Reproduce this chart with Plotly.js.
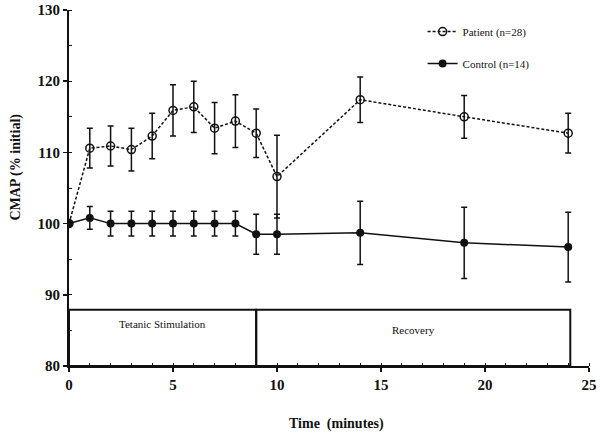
<!DOCTYPE html>
<html>
<head>
<meta charset="utf-8">
<script src="https://cdn.plot.ly/plotly-3.0.1.min.js"></script>
<style>html,body{margin:0;padding:0;background:#fff;}#chart{width:600px;height:435px;}</style>
</head>
<body>
<div id="chart"></div>
<script>
// Data
const timeMin = [0, 1, 2, 3, 4, 5, 6, 7, 8, 9, 10, 14, 19, 24];
const patientMean = [100, 110.6, 110.9, 110.4, 112.3, 115.9, 116.4, 113.4, 114.4, 112.7, 106.6, 117.4, 115.0, 112.7];
const patientErr  = [0, 2.8, 2.8, 3.0, 3.2, 3.6, 3.6, 3.6, 3.7, 3.4, 5.8, 3.2, 3.0, 2.8];
const controlMean = [100, 100.8, 100, 100, 100, 100, 100, 100, 100, 98.5, 98.5, 98.7, 97.3, 96.7];
const controlErr  = [0, 1.6, 1.75, 1.75, 1.75, 1.75, 1.75, 1.75, 1.75, 2.8, 2.8, 4.45, 5.0, 4.9];
const phaseNames = ["Tetanic Stimulation", "Recovery"];
const phaseBounds = [0, 9, 24.1];
const phaseBoxTop = 87.9;
const yMin = 80;

const serif = "Liberation Serif";

const traces = [
  {
    x: timeMin, y: patientMean, name: "Patient (n=28)", type: "scatter", mode: "lines+markers",
    line: {color: "#111", width: 1.5, dash: "3px,2px"},
    marker: {symbol: "circle-open", size: 8, color: "#111", line: {width: 1.5, color: "#111"}},
    error_y: {type: "data", array: patientErr, visible: true, color: "#111", thickness: 1.5, width: 3},
    legendgroup: "a"
  },
  {
    x: timeMin, y: controlMean, name: "Control (n=14)", type: "scatter", mode: "lines+markers",
    line: {color: "#111", width: 1.5},
    marker: {symbol: "circle", size: 8, color: "#111"},
    error_y: {type: "data", array: controlErr, visible: true, color: "#111", thickness: 1.5, width: 3},
    legendgroup: "b"
  }
];

const shapes = [];
for (let i = 0; i < phaseNames.length; i++) {
  shapes.push({type: "rect", xref: "x", yref: "y", x0: phaseBounds[i], x1: phaseBounds[i+1], y0: yMin, y1: phaseBoxTop,
    line: {color: "#111", width: 2}, fillcolor: "rgba(0,0,0,0)", layer: "above"});
}
const annotations = phaseNames.map((t, i) => ({
  text: t, xref: "x", yref: "y",
  x: (phaseBounds[i] + phaseBounds[i+1]) / 2, y: i === 0 ? 85.9 : 85.1,
  showarrow: false, font: {family: serif, size: 11, color: "#111"}
}));
annotations.push({
  text: "<b>CMAP (% initial)</b>", xref: "paper", yref: "paper",
  x: -0.102, y: 0.56, xanchor: "center", yanchor: "middle", textangle: -90, showarrow: false,
  font: {family: serif, size: 14, color: "#111"}
});
annotations.push({
  text: "<b>Time  (minutes)</b>", xref: "paper", yref: "paper",
  x: 0.515, y: -0.163, xanchor: "center", yanchor: "middle", showarrow: false,
  font: {family: serif, size: 14, color: "#111"}
});

const layout = {
  width: 600, height: 435,
  margin: {l: 69, r: 11, t: 10, b: 69},
  paper_bgcolor: "#fff", plot_bgcolor: "#fff",
  font: {family: serif},
  showlegend: true,
  legend: {x: 0.68, y: 0.98, xanchor: "left", yanchor: "top", bgcolor: "rgba(0,0,0,0)",
    font: {family: serif, size: 11, color: "#111"}, tracegroupgap: 13, traceorder: "grouped", itemwidth: 30},
  xaxis: {
    range: [0, 25], tickvals: [0, 5, 10, 15, 20, 25], ticktext: ["0", "5", "10", "15", "20", "25"],
    showgrid: false, zeroline: false, showline: true, linecolor: "#111", linewidth: 2,
    ticks: "outside", ticklen: 4, tickwidth: 1.5, tickcolor: "#111",
    minor: {dtick: 1, ticks: "inside", ticklen: 3, tickcolor: "#111", tickwidth: 1},
    tickfont: {family: serif, size: 15, color: "#111", weight: "bold"}
  },
  yaxis: {
    range: [80, 130], dtick: 10,
    showgrid: false, zeroline: false, showline: true, linecolor: "#111", linewidth: 2,
    ticks: "outside", ticklen: 4, tickwidth: 1.5, tickcolor: "#111",
    minor: {dtick: 5, ticks: "inside", ticklen: 3, tickcolor: "#111", tickwidth: 1},
    tickfont: {family: serif, size: 15, color: "#111", weight: "bold"}
  },
  shapes: shapes,
  annotations: annotations
};

Plotly.newPlot("chart", traces, layout, {displayModeBar: false, staticPlot: true});
</script>
</body>
</html>
